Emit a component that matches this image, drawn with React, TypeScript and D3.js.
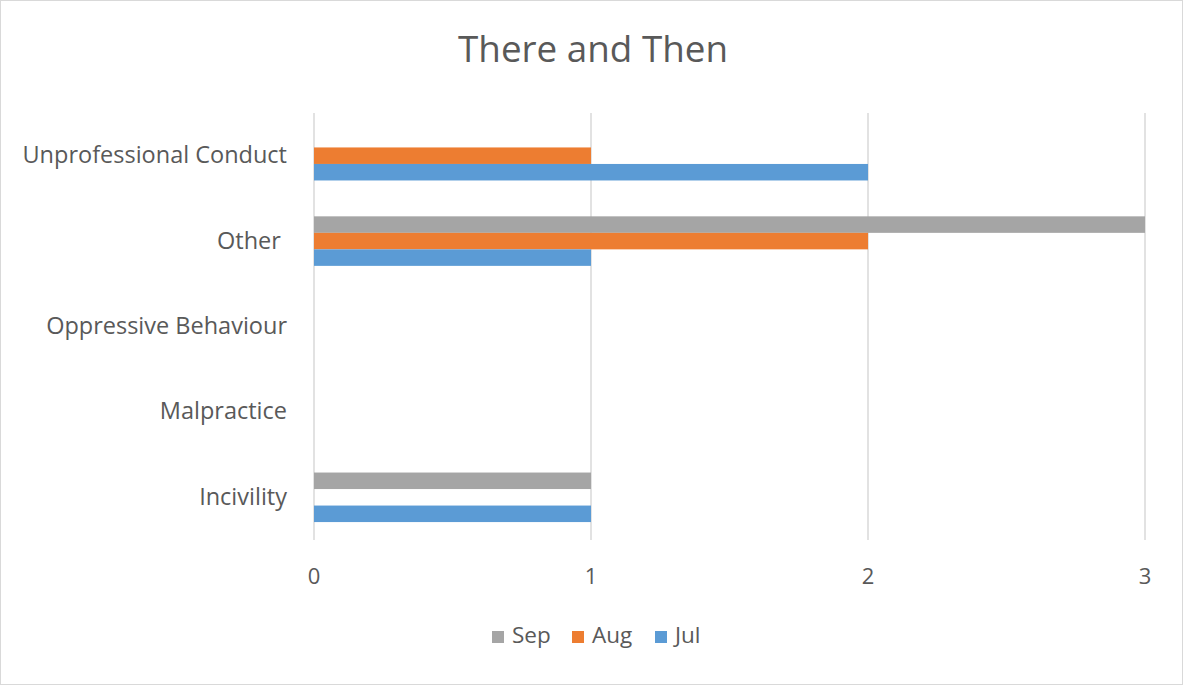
import React from "react";
import * as d3 from "d3";

// Categories listed top to bottom
const categories = [
  "Unprofessional Conduct",
  "Other ",
  "Oppressive Behaviour",
  "Malpractice",
  "Incivility",
];
// Series drawn within each band from top to bottom
const seriesNames = ["Sep", "Aug", "Jul"];
const sepValues = [0, 3, 0, 0, 1];
const augValues = [1, 2, 0, 0, 0];
const julValues = [2, 1, 0, 0, 1];
const seriesColors = ["#a5a5a5", "#ed7d31", "#5b9bd5"];
const xTicks = [0, 1, 2, 3];

const W = 1183;
const H = 685;
const plot = { left: 314, right: 1145, top: 113, bottom: 540 };
const FONT = "'Open Sans', 'Noto Sans', sans-serif";
const TEXT = "#595959";

export default function App() {
  const seriesValues = [sepValues, augValues, julValues];
  const x = d3.scaleLinear().domain([0, 3]).range([plot.left, plot.right]);
  const y = d3.scaleBand().domain(categories).range([plot.top, plot.bottom]);
  // bars fill ~58% of each band, centred
  const barGroup = y.bandwidth() * 0.58;
  const sub = d3
    .scaleBand()
    .domain(seriesNames)
    .range([(y.bandwidth() - barGroup) / 2, (y.bandwidth() + barGroup) / 2]);

  const legendItems = [
    { name: "Sep", color: seriesColors[0], x: 492 },
    { name: "Aug", color: seriesColors[1], x: 572 },
    { name: "Jul", color: seriesColors[2], x: 655 },
  ];

  return (
    <svg
      width={W}
      height={H}
      style={{ position: "absolute", left: 0, top: 0, background: "#fff" }}
      fontFamily={FONT}
    >
      <rect x={0.5} y={0.5} width={W - 1} height={H - 1} fill="#fff" stroke="#d9d9d9" />
      <text x={593} y={62} textAnchor="middle" fontSize={36.8} fill={TEXT}>
        There and Then
      </text>

      {xTicks.map((t) => (
        <g key={t}>
          <line x1={x(t)} x2={x(t)} y1={plot.top} y2={plot.bottom} stroke="#d9d9d9" strokeWidth={1.5} />
          <text x={x(t)} y={584} textAnchor="middle" fontSize={22} fill={TEXT}>
            {t}
          </text>
        </g>
      ))}

      {categories.map((c, ci) => (
        <g key={c} transform={`translate(0,${y(c)})`}>
          {seriesNames.map((s, si) => {
            const v = seriesValues[si][ci];
            if (!v) return null;
            return (
              <rect
                key={s}
                x={x(0)}
                y={sub(s)}
                width={x(v) - x(0)}
                height={sub.bandwidth()}
                fill={seriesColors[si]}
              />
            );
          })}
          <text
            x={287}
            y={y.bandwidth() / 2 + 7.5}
            textAnchor="end"
            fontSize={23.5}
            fill={TEXT}
            style={{ whiteSpace: "pre" }}
          >
            {c}
          </text>
        </g>
      ))}

      {legendItems.map((l) => (
        <g key={l.name}>
          <rect x={l.x} y={631} width={12} height={12} fill={l.color} />
          <text x={l.x + 20} y={643} fontSize={22.5} fill={TEXT}>
            {l.name}
          </text>
        </g>
      ))}
    </svg>
  );
}
